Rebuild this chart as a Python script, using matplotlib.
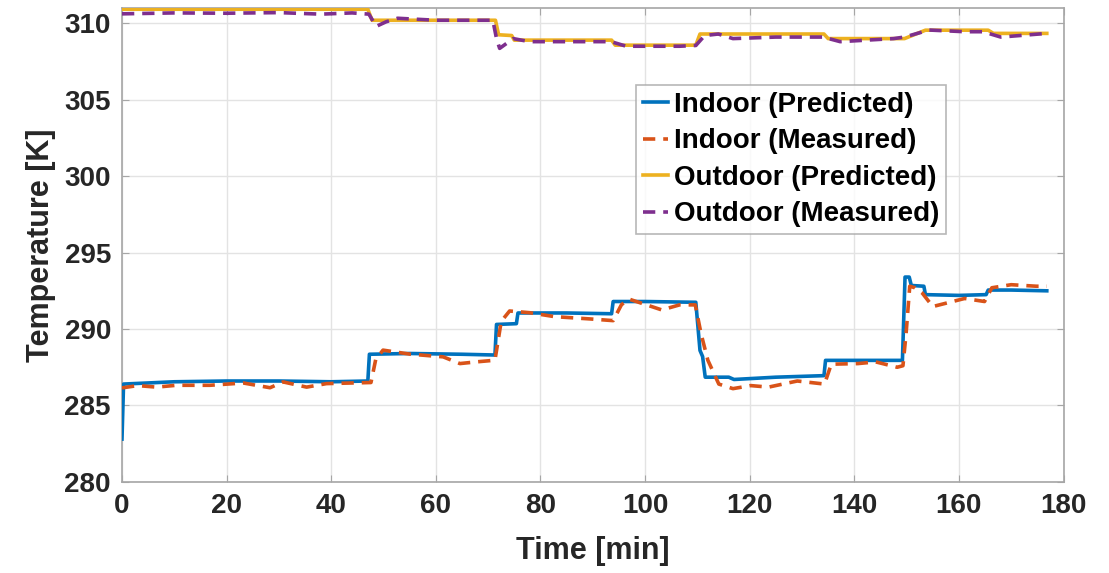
import matplotlib
matplotlib.use('Agg')
import matplotlib.pyplot as plt

# settings
plt.rcParams['font.family'] = ['Liberation Sans', 'DejaVu Sans']
plt.rcParams['font.weight'] = 'bold'
tick_size = 20
label_size = 22
text_color = '#262626'

# indoor, predicted
t_in_pred = [0, 0.3, 10, 20, 30, 40, 47, 47.3, 55, 65, 71.3, 71.6, 75.4, 75.7, 85, 93.6, 93.9,
             100, 109.7, 110.5, 111.0, 111.5, 116, 117, 125, 134.2, 134.5, 142, 149.2, 149.7,
             150.5, 150.9, 153.3, 153.6, 160, 165.2, 165.6, 170, 176.8]
T_in_pred = [282.8, 286.4, 286.55, 286.6, 286.6, 286.55, 286.6, 288.35, 288.4, 288.35, 288.3,
             290.3, 290.35, 291.05, 291.05, 291.0, 291.8, 291.8, 291.75, 288.6, 288.2, 286.85,
             286.85, 286.7, 286.85, 286.95, 287.95, 287.95, 287.95, 293.4, 293.4, 292.85, 292.8,
             292.25, 292.2, 292.25, 292.55, 292.55, 292.5]

# indoor, measured
t_in_meas = [0, 3, 6.6, 10.4, 16.8, 23.2, 28.3, 30.8, 35.3, 39.1, 47.6, 48.5, 49.9, 55, 61.4,
             64.6, 67.7, 71.3, 72.5, 74.1, 77.9, 82.7, 89.5, 93.9, 95.5, 97.0, 103.2, 106.6,
             109.6, 110.7, 112.0, 114.1, 116.8, 120.2, 123.6, 129.1, 134.3, 135.6, 140.7, 144.1,
             148.2, 149.3, 149.9, 150.6, 151.6, 153.0, 155.0, 161.1, 164.9, 166.3, 170.0, 174.8,
             176.8]
T_in_meas = [286.15, 286.3, 286.2, 286.32, 286.32, 286.47, 286.16, 286.54, 286.2, 286.43, 286.5,
             288.0, 288.62, 288.36, 288.18, 287.74, 287.85, 287.96, 290.5, 291.18, 291.07,
             290.81, 290.66, 290.55, 291.6, 291.95, 291.25, 291.58, 291.58, 289.7, 287.96, 286.4,
             286.1, 286.3, 286.2, 286.6, 286.4, 287.7, 287.74, 287.85, 287.5, 287.6, 289.7,
             292.8, 292.7, 292.35, 291.47, 292.0, 291.8, 292.7, 292.9, 292.8, 292.8]

# outdoor, predicted
t_out_pred = [0, 47, 47.8, 71.4, 72.0, 74.5, 75.0, 93.6, 94.3, 109.7, 110.5, 134.2, 135.0,
              149.6, 153.6, 165.6, 166.6, 176.8]
T_out_pred = [310.92, 310.92, 310.2, 310.2, 309.25, 309.2, 308.9, 308.9, 308.57, 308.57, 309.3,
              309.3, 309.0, 309.0, 309.55, 309.55, 309.34, 309.34]

# outdoor, measured
t_out_meas = [0, 10, 20, 30, 38, 44, 47.2, 48.6, 50.5, 52.7, 60, 70.9, 71.6, 72.2, 74.8, 77.9,
              85, 93.5, 96.4, 106.6, 109.7, 111.4, 114, 116.8, 125, 134, 137.3, 147.5, 149.6,
              154.3, 161.1, 164.6, 168.0, 176.8]
T_out_meas = [310.62, 310.68, 310.66, 310.7, 310.6, 310.68, 310.6, 309.8, 310.1, 310.33, 310.2,
              310.2, 309.0, 308.36, 309.0, 308.8, 308.8, 308.8, 308.5, 308.5, 308.55, 309.2,
              309.3, 309.0, 309.1, 309.1, 308.8, 309.0, 309.1, 309.56, 309.45, 309.45, 309.1,
              309.34]

fig = plt.figure(figsize=(11.09, 5.73), dpi=100)
ax = fig.add_axes([0.110, 0.159, 0.849, 0.827])

lw = 2.6
dash = (0, (3.4, 2.2))
ax.plot(t_in_pred, T_in_pred, color='#0072BD', lw=lw, label='Indoor (Predicted)', zorder=3)
ax.plot(t_in_meas, T_in_meas, color='#D95319', lw=lw, ls=dash, label='Indoor (Measured)', zorder=4)
ax.plot(t_out_pred, T_out_pred, color='#EDB120', lw=lw, label='Outdoor (Predicted)', zorder=3)
ax.plot(t_out_meas, T_out_meas, color='#7E2F8E', lw=lw, ls=dash, label='Outdoor (Measured)', zorder=4)

ax.set_xlim(0, 180)
ax.set_ylim(280, 311)
ax.set_xticks(range(0, 181, 20))
ax.set_yticks(range(280, 311, 5))
ax.grid(True, color='#e3e3e3', lw=1)
ax.set_axisbelow(True)
for s in ax.spines.values():
    s.set_color('#a6a6a6')
    s.set_linewidth(1.2)
ax.tick_params(direction='in', length=5, color='#a6a6a6', labelsize=tick_size,
               labelcolor=text_color, top=True, right=True, pad=8)

ax.set_xlabel('Time [min]', fontsize=label_size, fontweight='bold', color=text_color, labelpad=12)
ax.set_ylabel('Temperature [K]', fontsize=label_size, fontweight='bold', color=text_color, labelpad=6)

# legend box, placed in figure coords
leg = ax.legend(loc='upper left', bbox_to_anchor=(0.5735, 0.852), bbox_transform=fig.transFigure,
                fontsize=20, frameon=True, fancybox=False, handlelength=0.9, handletextpad=0.2,
                borderpad=0.25, labelspacing=0.38, borderaxespad=0)
leg.get_frame().set_edgecolor('#a6a6a6')
leg.get_frame().set_linewidth(1.2)
for txt in leg.get_texts():
    txt.set_fontweight('bold')
    txt.set_color('black')

fig.savefig('out.png', dpi=100)
